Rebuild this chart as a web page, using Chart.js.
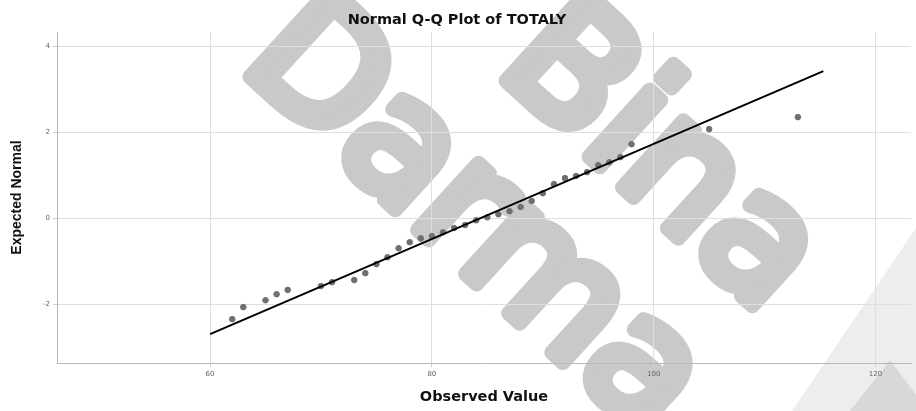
<!DOCTYPE html>
<html>
<head>
<meta charset="utf-8">
<script src="https://cdn.jsdelivr.net/npm/chart.js@4"></script>
<style>
  html, body { margin: 0; padding: 0; background: #fff; }
  #wrap { width: 916px; height: 411px; }
</style>
</head>
<body>
<div id="wrap"><canvas id="qq" width="916" height="411"></canvas></div>
<script>
// observed scores and their expected normal values
let obsValues = [62, 63, 65, 66, 67, 70, 71, 73, 74, 75, 76, 77, 78, 79, 80, 81, 82, 83, 84, 85,
                 86, 87, 88, 89, 90, 91, 92, 93, 94, 95, 96, 97, 98, 105, 113];
let expNormal = [-2.35, -2.07, -1.91, -1.77, -1.67, -1.58, -1.49, -1.44, -1.28, -1.07, -0.91, -0.70,
                 -0.56, -0.47, -0.42, -0.33, -0.23, -0.16, -0.05, 0.02, 0.09, 0.16, 0.26, 0.40, 0.58,
                 0.79, 0.93, 0.98, 1.07, 1.23, 1.30, 1.42, 1.72, 2.07, 2.35];
// reference line end points
let lineX = [60, 115.3];
let lineY = [-2.70, 3.42];
let xTicks = [60, 80, 100, 120];
let yTicks = [-2, 0, 2, 4];

let ctx = document.getElementById('qq').getContext('2d');

function drawWord(c, word, x, y) {
    c.save();
    c.translate(x, y);
    c.rotate(0.74);
    c.font = '165px "DejaVu Sans"';
    c.fillStyle = '#c9c9c9';
    c.strokeStyle = '#c9c9c9';
    c.lineWidth = 15;
    c.lineJoin = 'round';
    c.lineCap = 'round';
    c.fillText(word, 0, 0);
    c.strokeText(word, 0, 0);
    c.restore();
}

// background watermark, drawn under everything else
let watermark = {
    id: 'watermark',
    beforeDraw(chart) {
        let c = chart.ctx;
        c.save();
        c.fillStyle = '#ededed';
        c.beginPath();
        c.moveTo(792, 411); c.lineTo(916, 228); c.lineTo(916, 411);
        c.closePath();
        c.fill();
        c.fillStyle = '#d8d8d8';
        c.beginPath();
        c.moveTo(850, 411); c.lineTo(890, 360); c.lineTo(916, 395); c.lineTo(916, 411);
        c.closePath();
        c.fill();
        c.restore();
        drawWord(c, 'Darma', 238, 66);
        drawWord(c, 'Bina', 494, 70);
    }
};

let qqChart = new Chart(ctx, {
    type: 'scatter',
    data: {
        datasets: [{
            label: 'Observed',
            data: obsValues.map((v, i) => ({ x: v, y: expNormal[i] })),
            backgroundColor: '#707070',
            borderColor: '#707070',
            pointRadius: 2.8,
            order: 2
        }, {
            type: 'line',
            label: 'Reference',
            data: lineX.map((v, i) => ({ x: v, y: lineY[i] })),
            borderColor: '#000',
            borderWidth: 2,
            pointRadius: 0,
            fill: false,
            order: 1
        }]
    },
    options: {
        responsive: false,
        animation: false,
        layout: { padding: { left: 0, right: 2, top: 0, bottom: 0 } },
        plugins: {
            legend: { display: false },
            tooltip: { enabled: false },
            title: {
                display: true,
                text: 'Normal Q-Q Plot of TOTALY',
                color: '#111',
                font: { family: 'DejaVu Sans', size: 14.5, weight: 'bold' },
                padding: { top: 12, bottom: 2.6 }
            }
        },
        scales: {
            x: {
                type: 'linear',
                min: 46.2,
                max: 123.2,
                afterBuildTicks: s => { s.ticks = xTicks.map(v => ({ value: v })); },
                afterFit: s => { s.height = 48; },
                grid: { color: '#dedede', tickLength: 4, tickColor: '#cfcfcf' },
                border: { color: '#b8b8b8' },
                ticks: { color: '#666', font: { family: 'DejaVu Sans', size: 7 }, padding: 3 },
                title: {
                    display: true,
                    text: 'Observed Value',
                    color: '#111',
                    font: { family: 'DejaVu Sans', size: 14.5, weight: 'bold' },
                    padding: { top: 0, bottom: 5 }
                }
            },
            y: {
                type: 'linear',
                min: -3.37,
                max: 4.33,
                afterBuildTicks: s => { s.ticks = yTicks.map(v => ({ value: v })); },
                afterFit: s => { s.width = 57; },
                grid: { color: '#dedede', tickLength: 4, tickColor: '#cfcfcf' },
                border: { color: '#b8b8b8' },
                ticks: { color: '#666', font: { family: 'DejaVu Sans', size: 7 }, padding: 3 },
                title: {
                    display: true,
                    text: 'Expected Normal',
                    color: '#111',
                    font: { family: 'Liberation Sans', size: 14, weight: 'bold' },
                    padding: { top: 9, bottom: 0 }
                }
            }
        }
    },
    plugins: [watermark]
});
</script>
</body>
</html>
